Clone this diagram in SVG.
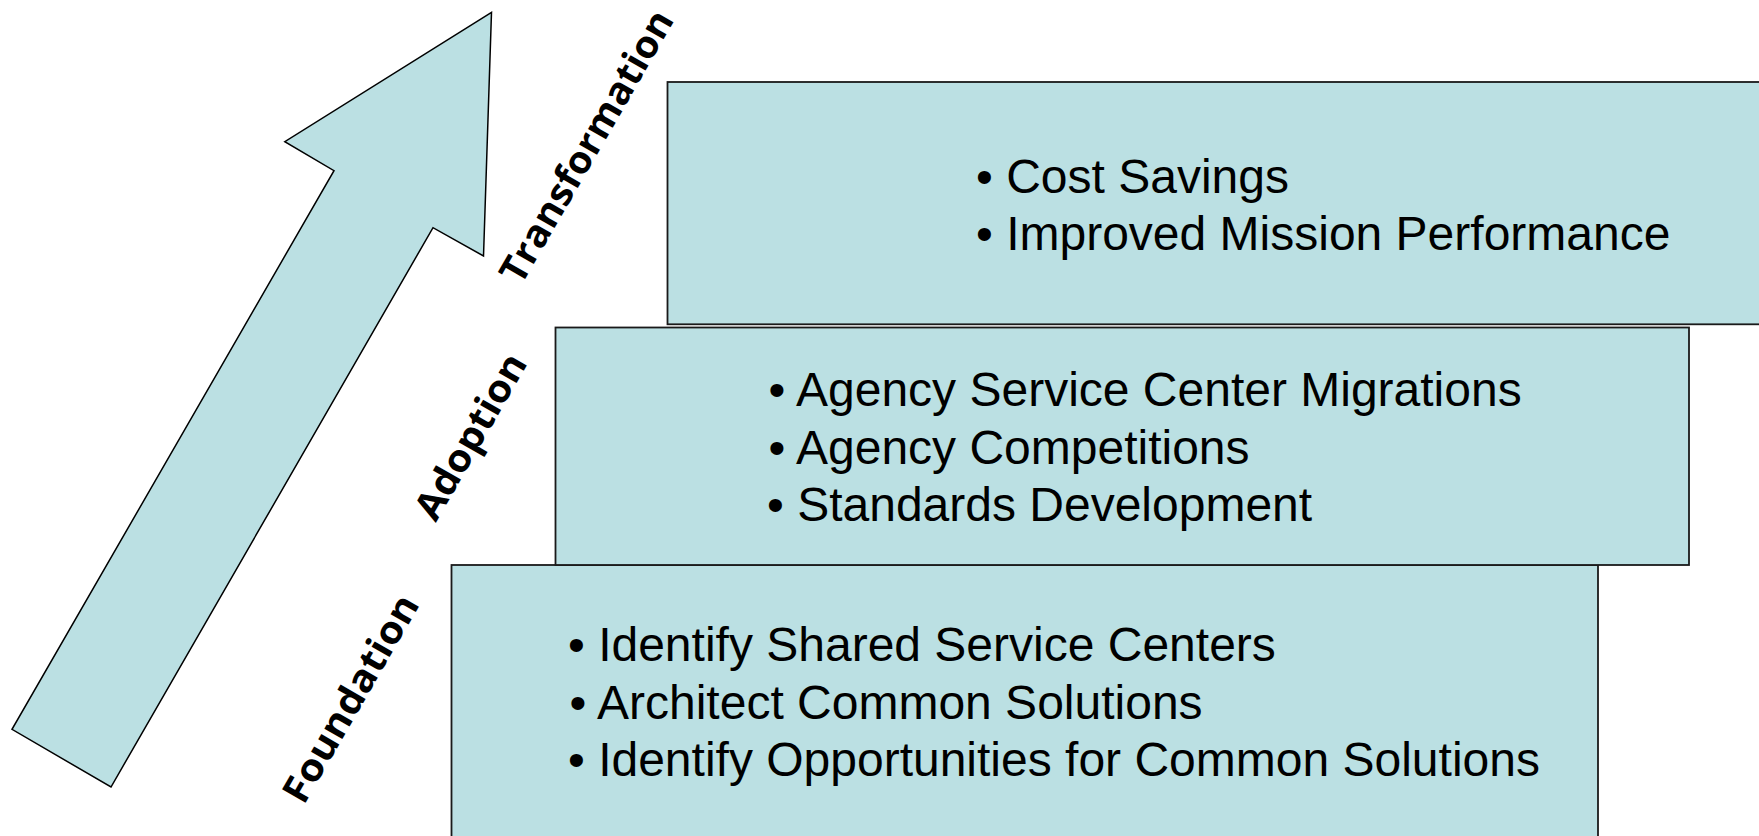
<svg xmlns="http://www.w3.org/2000/svg" width="1759" height="836" viewBox="0 0 1759 836">
<style>
.box{fill:#BBE0E3;stroke:#1a1a1a;stroke-width:1.8}
.arrow{fill:#BBE0E3;stroke:#000;stroke-width:1.5;stroke-linejoin:miter}
.item{font-family:"Liberation Sans",Arial,sans-serif;font-size:48px;fill:#000}
.stage{font-family:"Open Sans","DejaVu Sans",sans-serif;font-weight:700;font-size:38px;fill:#000;text-anchor:middle}
</style>
<rect width="1759" height="836" fill="#fff"/>
<g id="arrow">
<polygon class="arrow" points="491.5,12.3 284.8,141.7 334,170.7 12,729.3 111,787 433,227.7 483.5,256"/>
</g>
<g id="foundation">
<rect class="box" x="451.5" y="565" width="1146.5" height="290"/>
<text class="item" x="568" y="661">• Identify Shared Service Centers</text>
<text class="item" x="569.5" y="718.5">• Architect Common Solutions</text>
<text class="item" x="568" y="776">• Identify Opportunities for Common Solutions</text>
</g>
<g id="adoption">
<rect class="box" x="555.5" y="327.5" width="1133.5" height="237.5"/>
<text class="item" x="768.5" y="406">• Agency Service Center Migrations</text>
<text class="item" x="768.5" y="463.5">• Agency Competitions</text>
<text class="item" x="767" y="521">• Standards Development</text>
</g>
<g id="transformation">
<rect class="box" x="667.5" y="82" width="1120" height="242.3"/>
<text class="item" x="976" y="193">• Cost Savings</text>
<text class="item" x="976" y="249.5">• Improved Mission Performance</text>
</g>
<g id="label-transformation">
<text class="stage" transform="translate(598,153) rotate(-60)" textLength="308" lengthAdjust="spacingAndGlyphs">Transformation</text>
</g>
<g id="label-adoption">
<text class="stage" transform="translate(482,443) rotate(-60)" textLength="185" lengthAdjust="spacingAndGlyphs">Adoption</text>
</g>
<g id="label-foundation">
<text class="stage" transform="translate(362,705) rotate(-60)" textLength="233" lengthAdjust="spacingAndGlyphs">Foundation</text>
</g>
<g id="connectors"></g>
</svg>
